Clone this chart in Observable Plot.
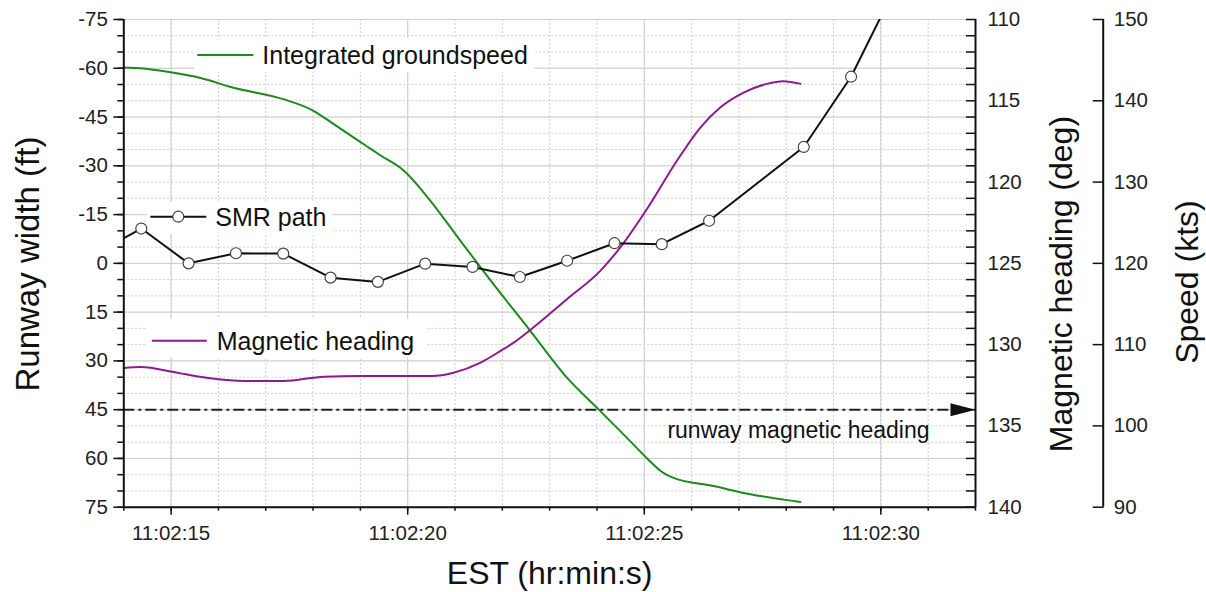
<!DOCTYPE html>
<html>
<head>
<meta charset="utf-8">
<script src="https://cdn.jsdelivr.net/npm/d3@7"></script>
<script src="https://cdn.jsdelivr.net/npm/@observablehq/plot@0.6"></script>
<style>
  html, body { margin: 0; padding: 0; background: #fff; }
  #chart svg { display: block; }
</style>
</head>
<body>
<div id="chart"></div>
<script>
// ---------- DATA ----------
// time axis: seconds after 11:02:00
const xDomain = [14, 32];
const xMajorTicks = [15, 20, 25, 30];
const xMinorTicks = [14, 15, 16, 17, 18, 19, 20, 21, 22, 23, 24, 25, 26, 27, 28, 29, 30, 31, 32];

// left axis: runway width (ft)
const yDomain = [-75, 75];
const widthMajorTicks = [-75, -60, -45, -30, -15, 0, 15, 30, 45, 60, 75];
const widthMinorTicks = [-75, -70, -65, -60, -55, -50, -45, -40, -35, -30, -25, -20, -15, -10, -5, 0, 5, 10, 15, 20, 25, 30, 35, 40, 45, 50, 55, 60, 65, 70, 75];

// right axis 1: magnetic heading (deg)
const headingDomain = [110, 140];
const headingMajorTicks = [110, 115, 120, 125, 130, 135, 140];
const headingMinorTicks = [110,111,112,113,114,115,116,117,118,119,120,121,122,123,124,125,126,127,128,129,130,131,132,133,134,135,136,137,138,139,140];

// right axis 2: speed (kts)
const speedDomain = [150, 90];
const speedTicks = [150, 140, 130, 120, 110, 100, 90];

// SMR path (runway width, ft)
const smrTime = [13.37, 14.37, 15.37, 16.37, 17.37, 18.37, 19.37, 20.37, 21.37, 22.37, 23.37, 24.37, 25.37, 26.37, 28.37, 29.37, 30.37];
const smrWidth = [-2.7, -10.7, 0.0, -3.1, -3.0, 4.4, 5.7, 0.1, 1.1, 4.2, -0.8, -6.2, -5.9, -13.1, -35.8, -57.4, -86.7];

// Magnetic heading (deg)
const headingTime = [14.0, 14.35, 15.13, 15.83, 16.54, 17.38, 18.23, 19.0, 20.5, 20.97, 21.54, 21.96, 22.24, 22.59, 23.37, 24.07, 24.49, 25.06, 25.69, 26.19, 26.61, 27.11, 27.59, 27.94, 28.30];
const headingDeg  = [131.43, 131.38, 131.73, 132.07, 132.24, 132.24, 131.97, 131.93, 131.93, 131.73, 131.11, 130.39, 129.88, 129.1, 127.19, 125.46, 124.03, 121.64, 118.69, 116.63, 115.40, 114.48, 113.96, 113.80, 113.96];

// Integrated groundspeed (kts)
const speedTime = [14.0, 14.35, 14.99, 15.62, 16.32, 17.37, 18.0, 18.43, 19.15, 19.42, 19.92, 20.48, 21.11, 21.75, 22.59, 23.37, 24.04, 24.64, 25.06, 25.41, 25.62, 26.46, 27.24, 28.30];
const speedKts  = [144.1, 144.0, 143.5, 142.8, 141.6, 140.2, 138.8, 137.15, 134.35, 133.3, 131.4, 127.7, 122.8, 117.9, 111.7, 105.9, 102.0, 98.5, 96.0, 94.2, 93.6, 92.6, 91.6, 90.65];

// runway magnetic heading reference
const runwayHeading = 134;

// labels
const seriesLabels = ["Integrated groundspeed", "SMR path", "Magnetic heading"];
const runwayLabel = "runway magnetic heading";
const xTitle = "EST (hr:min:s)";
const yTitle = "Runway width (ft)";
const headingTitle = "Magnetic heading (deg)";
const speedTitle = "Speed (kts)";
const timePrefix = "11:02:";

// ---------- SCALE MAPPINGS onto the left (ft) scale ----------
const headingToFt = d3.scaleLinear().domain(headingDomain).range(yDomain);
const speedToFt = d3.scaleLinear().domain(speedDomain).range(yDomain);

// ---------- STYLE ----------
const FONT = "'Liberation Sans', Arial, Helvetica, sans-serif";
const GREEN = "#1d8a1d";
const PURPLE = "#8e1a8e";
const INK = "#111";
const GRID = "#cdcdcd";

const smrData = smrTime.map((t, i) => ({t, v: smrWidth[i]}));
const headingData = headingTime.map((t, i) => ({t, v: headingToFt(headingDeg[i])}));
const speedData = speedTime.map((t, i) => ({t, v: speedToFt(speedKts[i])}));

// legend layout (pixel offsets relative to the frame's top-left corner)
const legendLayout = [
  {label: seriesLabels[0], color: GREEN, marker: false, x1: 74, x2: 130, y: 36, tx: 139, box: [71, 19, 340, 34]},
  {label: seriesLabels[1], color: "#111", marker: true, x1: 27, x2: 83, y: 197.7, tx: 92, box: [24, 183, 185, 32]},
  {label: seriesLabels[2], color: PURPLE, marker: false, x1: 28.5, x2: 83.5, y: 321.7, tx: 93.5, box: [24, 300, 280, 38]}
];

function legendBoxes(index, scales, values, dims) {
  const g = d3.create("svg:g");
  for (const it of legendLayout) {
    g.append("rect")
      .attr("x", dims.marginLeft + it.box[0]).attr("y", dims.marginTop + it.box[1])
      .attr("width", it.box[2]).attr("height", it.box[3]).attr("fill", "#fff");
  }
  return g.node();
}
function legendItems(index, scales, values, dims) {
  const g = d3.create("svg:g").attr("font-family", FONT).attr("font-size", 25).attr("text-anchor", "start");
  for (const it of legendLayout) {
    const ox = dims.marginLeft, oy = dims.marginTop;
    g.append("line").attr("x1", ox + it.x1).attr("x2", ox + it.x2)
      .attr("y1", oy + it.y).attr("y2", oy + it.y)
      .attr("stroke", it.color).attr("stroke-width", 2);
    if (it.marker) {
      g.append("circle").attr("cx", ox + (it.x1 + it.x2) / 2).attr("cy", oy + it.y)
        .attr("r", 5.5).attr("fill", "#fff").attr("stroke", "#444").attr("stroke-width", 1.2);
    }
    g.append("text").attr("x", ox + it.tx).attr("y", oy + it.y).attr("dy", "0.36em")
      .attr("text-anchor", "start").attr("fill", INK).text(it.label);
  }
  return g.node();
}

const arrowHead = {
  draw(context) {
    context.moveTo(0, 0);
    context.lineTo(-25, -6.5);
    context.lineTo(-25, 6.5);
    context.closePath();
  }
};

const fmtNum = d => String(Math.round(d));

const chart = Plot.plot({
  width: 1206,
  height: 592,
  marginTop: 19,
  marginRight: 231,
  marginBottom: 85.3,
  marginLeft: 123.3,
  style: {fontFamily: FONT, background: "#fff", color: INK, overflow: "visible"},
  x: {domain: xDomain, axis: null},
  y: {domain: yDomain, reverse: true, axis: null},
  marks: [
    // grid
    Plot.gridX({ticks: xMinorTicks, stroke: GRID, strokeOpacity: 1, strokeDasharray: "2,2"}),
    Plot.gridX({ticks: xMajorTicks, stroke: GRID, strokeOpacity: 1}),
    Plot.gridY({ticks: widthMinorTicks, stroke: GRID, strokeOpacity: 1, strokeDasharray: "2,2"}),
    Plot.gridY({ticks: widthMajorTicks, stroke: GRID, strokeOpacity: 1}),
    legendBoxes,

    // runway heading reference line
    Plot.ruleY([runwayHeading], {y: d => headingToFt(d), stroke: "#222", strokeWidth: 2, strokeDasharray: "11,4,3,4"}),
    Plot.dot([runwayHeading], {x: () => xDomain[1], y: d => headingToFt(d), symbol: arrowHead, fill: "#111", stroke: "none"}),
    Plot.text([runwayLabel], {y: () => headingToFt(runwayHeading), frameAnchor: "right", textAnchor: "end", lineAnchor: "bottom", dx: -46, dy: 28, fontSize: 23, fill: INK}),

    // series
    Plot.line(speedData, {x: "t", y: "v", stroke: GREEN, strokeWidth: 2, curve: "monotone-x", clip: true}),
    Plot.line(headingData, {x: "t", y: "v", stroke: PURPLE, strokeWidth: 2, curve: "monotone-x", clip: true}),
    Plot.line(smrData, {x: "t", y: "v", stroke: "#111", strokeWidth: 2, clip: true}),
    Plot.dot(smrData, {x: "t", y: "v", r: 5.5, fill: "#fff", stroke: "#444", strokeWidth: 1.2, clip: true}),

    legendItems,

    // axis lines
    Plot.ruleX([xDomain[0]], {stroke: "#111", strokeWidth: 2}),
    Plot.ruleX([xDomain[1]], {stroke: "#111", strokeWidth: 2}),
    Plot.ruleX([xDomain[1]], {stroke: "#111", strokeWidth: 2, dx: 127.7}),
    Plot.ruleY([yDomain[1]], {stroke: "#111", strokeWidth: 2}),

    // left axis
    Plot.axisY({ticks: widthMinorTicks, anchor: "left", tickSize: 6, tickFormat: () => "", label: null, stroke: "#111", strokeWidth: 1.5}),
    Plot.axisY({ticks: widthMajorTicks, anchor: "left", tickSize: 10, tickPadding: 6, tickFormat: fmtNum, label: null, fontSize: 20.5, stroke: "#111", strokeWidth: 1.5, fill: "#222"}),

    // bottom axis
    Plot.axisX({ticks: xMinorTicks, anchor: "bottom", tickSize: 4, tickFormat: () => "", label: null, stroke: "#111", strokeWidth: 1.5}),
    Plot.axisX({ticks: xMajorTicks, anchor: "bottom", tickSize: 8, tickPadding: 10, tickFormat: d => timePrefix + d, label: null, fontSize: 20.5, stroke: "#111", strokeWidth: 1.5, fill: "#222"}),

    // magnetic heading axis (ticks point inward)
    Plot.axisY({ticks: headingMinorTicks.map(headingToFt), anchor: "right", tickSize: 10, dx: -10, tickFormat: () => "", label: null, stroke: "#111", strokeWidth: 1.5}),
    Plot.axisY({ticks: headingMajorTicks.map(headingToFt), anchor: "right", tickSize: 0, tickPadding: 12, tickFormat: d => fmtNum(headingToFt.invert(d)), label: null, fontSize: 20.5, fill: "#222"}),

    // speed axis (offset)
    Plot.axisY({ticks: speedTicks.map(speedToFt), anchor: "right", tickSize: 11, dx: 127.7 - 11, tickFormat: () => "", label: null, stroke: "#111", strokeWidth: 1.5}),
    Plot.axisY({ticks: speedTicks.map(speedToFt), anchor: "right", tickSize: 0, tickPadding: 10.6, dx: 127.7, tickFormat: d => fmtNum(speedToFt.invert(d)), label: null, fontSize: 20.5, fill: "#222"}),

    // titles
    Plot.text([xTitle], {frameAnchor: "bottom", dy: 76.3, lineAnchor: "bottom", textAnchor: "middle", fontSize: 32, fill: INK}),
    Plot.text([yTitle], {frameAnchor: "left", rotate: -90, dx: -84.8, dy: 0.7, lineAnchor: "bottom", textAnchor: "middle", fontSize: 33, fill: INK}),
    Plot.text([headingTitle], {frameAnchor: "right", rotate: -90, dx: 96, dy: 20.7, lineAnchor: "bottom", textAnchor: "middle", fontSize: 32, fill: INK}),
    Plot.text([speedTitle], {frameAnchor: "right", rotate: -90, dx: 222, dy: 18.7, lineAnchor: "bottom", textAnchor: "middle", fontSize: 32, fill: INK})
  ]
});

document.getElementById("chart").appendChild(chart);
</script>
</body>
</html>
